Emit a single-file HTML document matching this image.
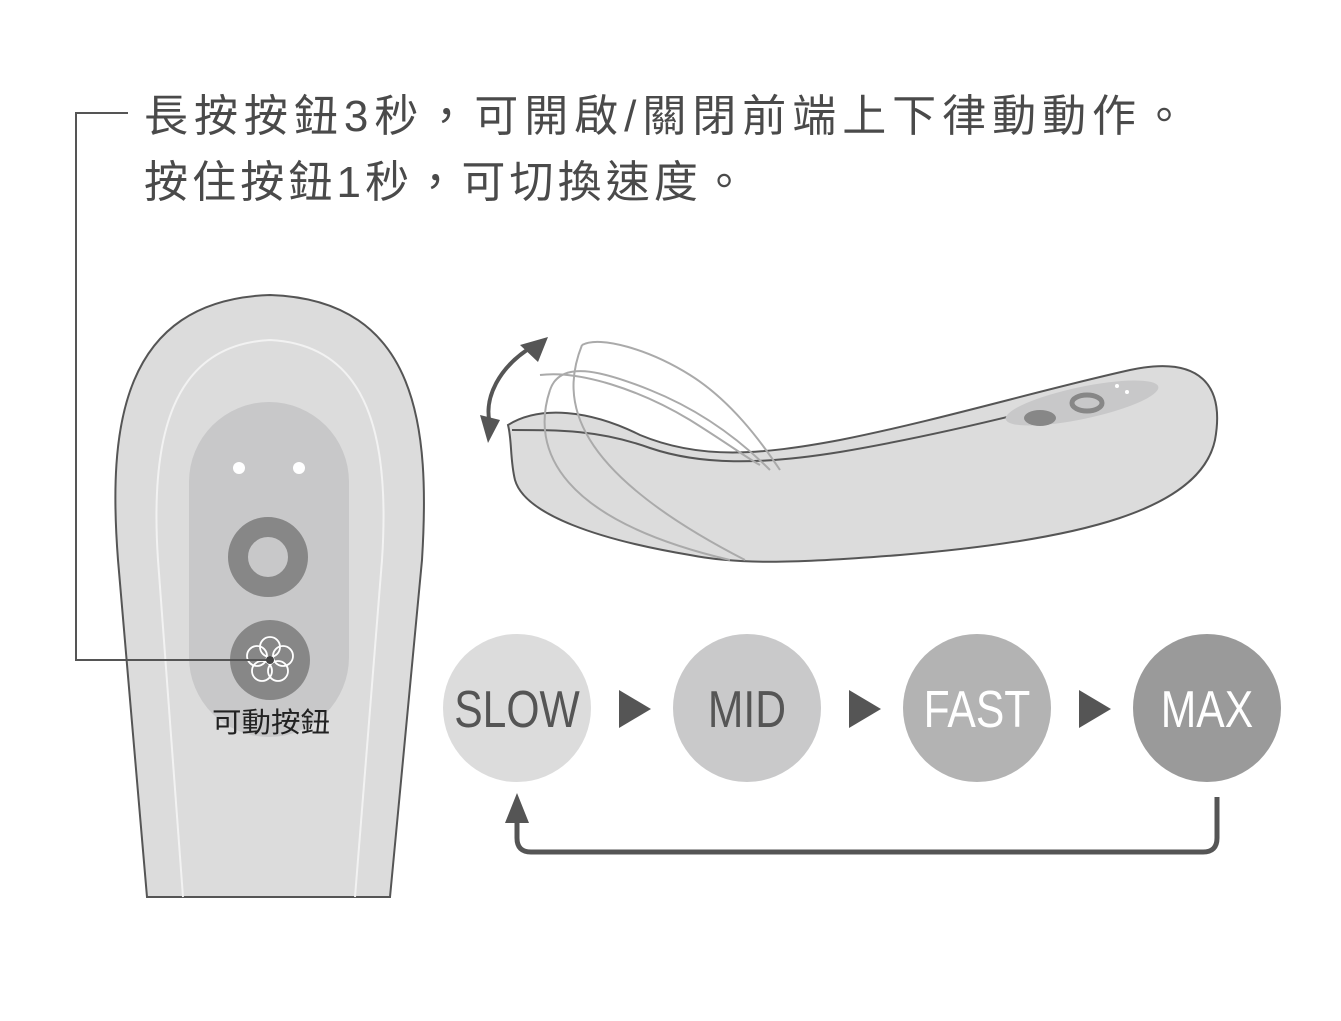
<!DOCTYPE html>
<html><head><meta charset="utf-8"><style>
body{margin:0;background:#fff;width:1341px;height:1021px;overflow:hidden}
svg{display:block}
</style></head><body>
<svg width="1341" height="1021" viewBox="0 0 1341 1021" xmlns="http://www.w3.org/2000/svg">
<g font-family="Liberation Sans, Noto Sans CJK TC, sans-serif" fill="#4a4a4a">
<text x="144" y="131" font-size="44" textLength="1042" lengthAdjust="spacing">長按按鈕3秒，可開啟/關閉前端上下律動動作。</text>
<text x="144" y="197" font-size="44" textLength="602" lengthAdjust="spacing">按住按鈕1秒，可切換速度。</text>
</g>
<polyline points="128,113 76,113 76,660 270,660" fill="none" stroke="#555" stroke-width="2"/>
<!-- handheld -->
<path d="M147,897 L118,560 C108,430 120,300 270,295 C420,300 430,430 422,560 L390,897 Z" fill="#dcdcdc" stroke="#555" stroke-width="2"/>
<path d="M183,897 L158,560 C150,440 170,345 270,340 C370,345 390,440 382,560 L355,897" fill="none" stroke="#f2f2f2" stroke-width="2"/>
<rect x="189" y="402" width="160" height="335" rx="80" fill="#c8c8c9"/>
<circle cx="239" cy="468" r="6" fill="#fff"/><circle cx="299" cy="468" r="6" fill="#fff"/>
<circle cx="268" cy="557" r="30" fill="none" stroke="#878787" stroke-width="20"/>
<circle cx="270" cy="660" r="40" fill="#878787"/>
<g fill="none" stroke="#fff" stroke-width="1.8">
<circle cx="270" cy="647" r="10"/><circle cx="283" cy="656" r="10"/><circle cx="278" cy="671" r="10"/><circle cx="262" cy="671" r="10"/><circle cx="257" cy="656" r="10"/>
</g>
<polyline points="76,660 270,660" stroke="#555" stroke-width="2"/>
<circle cx="270" cy="660" r="4" fill="#444"/>
<text x="212" y="732" font-size="28" textLength="118" lengthAdjust="spacingAndGlyphs" fill="#222" font-family="Liberation Sans, Noto Sans CJK TC, sans-serif">可動按鈕</text>
<!-- curved device -->
<path d="M508,425 C540,405 590,410 640,435 C700,460 760,455 840,440 C940,420 1040,390 1130,370 C1200,355 1225,385 1215,440 C1200,510 1080,540 900,555 C800,563 740,565 690,555 C600,540 525,515 515,480 C510,460 512,440 508,425 Z" fill="#dcdcdc" stroke="#555" stroke-width="2"/>
<path d="M512,430 C560,430 600,430 650,448 C700,465 760,465 840,452 C940,435 1040,410 1130,385" fill="none" stroke="#555" stroke-width="2"/>
<ellipse cx="1082" cy="403" rx="78" ry="16" transform="rotate(-12 1082 403)" fill="#c8c8c9"/>
<ellipse cx="1087" cy="403" rx="15" ry="8" fill="none" stroke="#878787" stroke-width="5"/>
<ellipse cx="1040" cy="418" rx="16" ry="8" fill="#878787"/>
<circle cx="1117" cy="386" r="2" fill="#fff"/><circle cx="1127" cy="392" r="2" fill="#fff"/>
<g fill="none" stroke="#aaa" stroke-width="2">
<path d="M550,390 C560,360 600,370 650,390 C700,410 740,440 770,470"/>
<path d="M582,345 C600,335 650,350 690,375 C730,400 760,440 780,470"/>
<path d="M550,390 C530,450 560,520 730,560"/>
<path d="M582,345 C560,400 570,470 745,560"/>
<path d="M540,375 C580,370 640,390 690,420 C730,445 750,460 760,465"/>
</g>
<path d="M492,430 C480,400 500,365 535,345" fill="none" stroke="#555" stroke-width="4"/>
<polygon points="548,337 520,345 538,362" fill="#555"/>
<polygon points="488,443 480,415 500,420" fill="#555"/>
<!-- speed circles -->
<circle cx="517" cy="708" r="74" fill="#dcdcdc"/>
<circle cx="747" cy="708" r="74" fill="#c9c9ca"/>
<circle cx="977" cy="708" r="74" fill="#b3b3b3"/>
<circle cx="1207" cy="708" r="74" fill="#9a9a9a"/>
<g font-family="Liberation Sans, sans-serif" font-size="52" text-anchor="middle">
<text x="517" y="727" fill="#555" transform="translate(517 0) scale(0.82 1) translate(-517 0)">SLOW</text>
<text x="747" y="727" fill="#555" transform="translate(747 0) scale(0.82 1) translate(-747 0)">MID</text>
<text x="977" y="727" fill="#fff" transform="translate(977 0) scale(0.82 1) translate(-977 0)">FAST</text>
<text x="1207" y="727" fill="#fff" transform="translate(1207 0) scale(0.82 1) translate(-1207 0)">MAX</text>
</g>
<g fill="#555">
<polygon points="619,690 651,709 619,728"/>
<polygon points="849,690 881,709 849,728"/>
<polygon points="1079,690 1111,709 1079,728"/>
</g>
<path d="M1217,797 L1217,838 Q1217,852 1203,852 L531,852 Q517,852 517,838 L517,815" fill="none" stroke="#555" stroke-width="5"/>
<polygon points="517,793 505,823 529,823" fill="#555"/>
</svg>
</body></html>
